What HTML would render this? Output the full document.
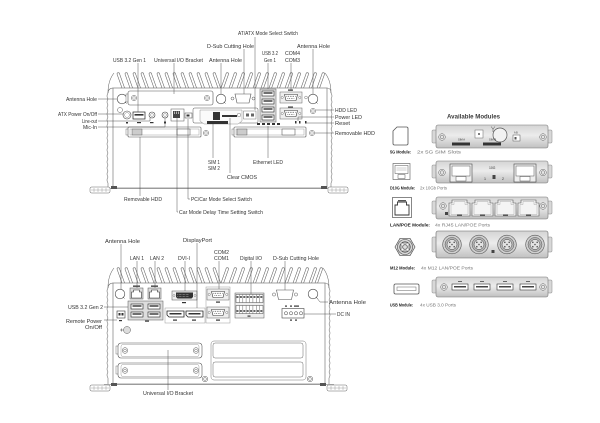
<!DOCTYPE html>
<html><head><meta charset="utf-8">
<style>
html,body{margin:0;padding:0;background:#fff;width:600px;height:423px;overflow:hidden}
svg{display:block}
text{font-family:"Liberation Sans",Arial,sans-serif;font-size:5.2px;fill:#333}
.l{fill:none;stroke:#444;stroke-width:0.45}
.w{fill:none;stroke:#666;stroke-width:0.55}
.o{fill:#fff;stroke:#666;stroke-width:0.55}
.d{fill:#333}
.mn{font-weight:bold;font-size:4.6px;fill:#222}
.md{font-size:4.6px;fill:#777}
</style></head><body>
<svg width="600" height="423" viewBox="0 0 600 423" xmlns="http://www.w3.org/2000/svg">
<defs>
 <path id="fl" d="M0,0 L5,14 M2.6,0 L7.6,14 M0,0 A1.3,1.3 0 0 1 2.6,0" fill="none" stroke="#666" stroke-width="0.55"/>
 <path id="fr" d="M0,0 L-5,14 M2.6,0 L-2.4,14 M0,0 A1.3,1.3 0 0 1 2.6,0" fill="none" stroke="#666" stroke-width="0.55"/>
 <g id="scr"><circle r="2.6" fill="#fff" stroke="#555" stroke-width="0.5"/><circle r="1.3" fill="none" stroke="#555" stroke-width="0.4"/></g>
 <g id="ant"><circle r="4.8" fill="#fff" stroke="#444" stroke-width="0.6"/><path d="M3.4,3.4 l1.2,1.2" stroke="#444" stroke-width="0.5"/></g>
 <g id="com"><rect width="22" height="11" fill="#eee" stroke="#666" stroke-width="0.5"/><circle cx="2.2" cy="5.5" r="1.1" fill="#fff" stroke="#555" stroke-width="0.4"/><circle cx="19.8" cy="5.5" r="1.1" fill="#fff" stroke="#555" stroke-width="0.4"/><path d="M4.5,2.5 H17.5 L16,8.5 H6 Z" fill="#fff" stroke="#333" stroke-width="0.6"/><path d="M6.5,4.3 H15.5 M7.5,6.6 H14.5" stroke="#333" stroke-width="0.8" stroke-dasharray="0.7,1"/></g>
 <g id="usb"><rect width="12" height="5" fill="#fff" stroke="#222" stroke-width="0.6"/><rect x="1.5" y="1.3" width="9" height="1.4" fill="#333"/></g>
 <g id="mscr"><circle r="3.3" fill="#e6e6e6" stroke="#666" stroke-width="0.5"/><circle r="1.8" fill="none" stroke="#666" stroke-width="0.5"/></g>
 <g id="rj"><path d="M0,17 V4 H3 V1 H18 V4 H21 V17 Z" fill="#f4f4f4" stroke="#555" stroke-width="0.6"/><path d="M2,15.5 V5.5 H5 V2.5 H16 V5.5 H19 V15.5 Z" fill="none" stroke="#999" stroke-width="0.4"/><rect x="8" y="15.5" width="5" height="1.5" fill="#555"/></g>
 <g id="m12"><circle r="9.3" fill="#cfcfcf" stroke="#555" stroke-width="0.6"/><circle r="7" fill="#b5b5b5" stroke="#555" stroke-width="0.5"/><circle r="5" fill="#e2e2e2" stroke="#444" stroke-width="0.5"/><circle cx="-2.2" cy="-2.2" r="0.8" fill="#555"/><circle cx="2.2" cy="-2.2" r="0.8" fill="#555"/><circle cx="-2.2" cy="2.2" r="0.8" fill="#555"/><circle cx="2.2" cy="2.2" r="0.8" fill="#555"/><circle r="0.8" fill="#555"/></g>
 <g id="bscr"><circle r="2.8" fill="#fff" stroke="#555" stroke-width="0.5"/><circle r="1.4" fill="none" stroke="#555" stroke-width="0.45"/></g>
 <linearGradient id="metal" x1="0" y1="0" x2="0" y2="1"><stop offset="0" stop-color="#d4d4d4"/><stop offset="0.45" stop-color="#ececec"/><stop offset="1" stop-color="#c0c0c0"/></linearGradient>
 <g id="foot"><rect width="20" height="6" rx="1.5" fill="#fff" stroke="#666" stroke-width="0.5"/><path d="M4,1 V5 M8,1 V5 M12,1 V5 M16,1 V5 M1,3 H19" stroke="#888" stroke-width="0.4"/></g>
</defs>

<!-- ================= TOP DEVICE ================= -->
<g>
 <use href="#fl" x="117" y="74"/><use href="#fl" x="125" y="74"/><use href="#fl" x="133" y="74"/><use href="#fl" x="141" y="74"/><use href="#fl" x="149" y="74"/><use href="#fl" x="157" y="74"/><use href="#fl" x="165" y="74"/><use href="#fl" x="173" y="74"/><use href="#fl" x="181" y="74"/><use href="#fl" x="189" y="74"/><use href="#fl" x="197" y="74"/><use href="#fl" x="205" y="74"/><use href="#fl" x="213" y="74"/>
 <use href="#fr" x="226" y="74"/><use href="#fr" x="234" y="74"/><use href="#fr" x="242" y="74"/><use href="#fr" x="250" y="74"/><use href="#fr" x="258" y="74"/><use href="#fr" x="266" y="74"/><use href="#fr" x="274" y="74"/><use href="#fr" x="282" y="74"/><use href="#fr" x="290" y="74"/><use href="#fr" x="298" y="74"/><use href="#fr" x="306" y="74"/><use href="#fr" x="314" y="74"/><use href="#fr" x="322" y="74"/>
 <path class="w" d="M113,88 C110,88 108,90 108,93 q-2,3 0,6 q-2,3 0,6 q-2,3 0,6 q-2,3 0,6 q-2,3 0,6 q-2,3 0,6 q-2,3 0,6 q-2,3 0,6 q-2,3 0,6 q-2,3 0,6 q-2,3 0,6 q-2,3 0,6 q-2,3 0,6 q-2,3 0,6 q-2,3 0,6 L108,188"/>
 <path class="w" d="M327,88 C330,88 331,90 331,93 q2,3 0,6 q2,3 0,6 q2,3 0,6 q2,3 0,6 q2,3 0,6 q2,3 0,6 q2,3 0,6 q2,3 0,6 q2,3 0,6 q2,3 0,6 q2,3 0,6 q2,3 0,6 q2,3 0,6 q2,3 0,6 q2,3 0,6 L331,188"/>
 <path class="w" d="M108,93 C108,84 110,78 114,73 M331,93 C331,84 329,78 325,73"/>
 <rect x="113" y="88" width="214" height="100" fill="none" stroke="#666" stroke-width="0.6"/>
 <path d="M104,188.5 H336" stroke="#666" stroke-width="0.6"/>
 <use href="#foot" x="90" y="187"/><use href="#foot" x="328" y="187"/>
 <rect x="111" y="186" width="6" height="3" fill="#555"/><rect x="321" y="186" width="6" height="3" fill="#555"/>

 <!-- row 1 -->
 <use href="#ant" x="122" y="99"/>
 <rect x="126" y="94" width="2.5" height="8" fill="#fff" stroke="#555" stroke-width="0.4"/>
 <rect x="128" y="91" width="85" height="14" rx="2" fill="#fff" stroke="#555" stroke-width="0.6"/>
 <use href="#scr" x="134" y="98"/><use href="#scr" x="207" y="98"/>
 <use href="#ant" x="221" y="99"/>
 <circle cx="232.5" cy="98.5" r="1.5" fill="#fff" stroke="#555" stroke-width="0.5"/>
 <circle cx="253.5" cy="98.5" r="1.5" fill="#fff" stroke="#555" stroke-width="0.5"/>
 <path d="M235,94 H251 L249,103 H237 Z" fill="#fff" stroke="#555" stroke-width="0.6"/>
 <rect x="260" y="89" width="16" height="33" fill="#e2e2e2" stroke="#555" stroke-width="0.5"/>
 <use href="#usb" x="262" y="91"/><use href="#usb" x="262" y="99"/><use href="#usb" x="262" y="107"/><use href="#usb" x="262" y="115"/>
 <rect x="257" y="123" width="3" height="2" class="d"/><rect x="262" y="123" width="3" height="2" class="d"/><rect x="267" y="123" width="3" height="2" class="d"/><rect x="272" y="123" width="3" height="2" class="d"/><rect x="277" y="123" width="3" height="2" class="d"/>
 <rect x="288" y="89.5" width="5" height="1.2" class="d"/>
 <use href="#com" x="280" y="92"/>
 <rect x="288" y="106.5" width="5" height="1.2" class="d"/>
 <use href="#com" x="280" y="108"/>
 <circle cx="306" cy="97.5" r="1.4" fill="#fff" stroke="#555" stroke-width="0.4"/>
 <use href="#ant" x="313" y="99"/>
 <use href="#scr" x="313" y="111"/>
 <rect x="295" y="121" width="1.5" height="2.5" class="d"/><rect x="299" y="121" width="1.5" height="2.5" class="d"/><rect x="305" y="121" width="1.5" height="2.5" class="d"/>

 <!-- row 2 -->
 <circle cx="120" cy="110" r="2.5" fill="#fff" stroke="#555" stroke-width="0.5"/>
 <circle cx="127" cy="115" r="4" fill="#fff" stroke="#444" stroke-width="0.6"/><circle cx="127" cy="115" r="2.4" fill="none" stroke="#666" stroke-width="0.4"/>
 <rect x="133" y="112" width="12" height="7" fill="#fff" stroke="#222" stroke-width="0.7"/><rect x="134.5" y="114" width="9" height="1.6" class="d"/>
 <circle cx="152" cy="115" r="3" fill="#fff" stroke="#444" stroke-width="0.6"/><circle cx="152" cy="115" r="1.4" fill="none" stroke="#666" stroke-width="0.4"/>
 <circle cx="165" cy="115" r="3" fill="#fff" stroke="#444" stroke-width="0.6"/><circle cx="165" cy="115" r="1.4" fill="none" stroke="#666" stroke-width="0.4"/>
 <rect x="126" y="122" width="2" height="1.5" class="d"/><rect x="137" y="122" width="4" height="1.2" class="d"/><rect x="150" y="122" width="3.5" height="1.2" class="d"/><rect x="164" y="121.5" width="2" height="2" class="d"/>
 <rect x="171" y="109" width="13" height="12" fill="#fff" stroke="#555" stroke-width="0.5"/>
 <rect x="173" y="111" width="7" height="7" fill="#444"/><path d="M174.5,111.5 V114 M176.5,111.5 V114 M178.5,111.5 V114" stroke="#fff" stroke-width="0.6"/>
 <rect x="185" y="113" width="7" height="5" fill="#fff" stroke="#444" stroke-width="0.5"/><rect x="186.5" y="114.5" width="3" height="2" class="d"/>
 <circle cx="197" cy="115" r="1.8" fill="#fff" stroke="#555" stroke-width="0.4"/>
 <rect x="193" y="108" width="65" height="15" rx="1.5" fill="#fff" stroke="#555" stroke-width="0.5"/>
 <path d="M200,110 H242 V121 L238,124 H204 L200,121 Z" fill="#fafafa" stroke="#777" stroke-width="0.4"/>
 <rect x="213" y="112" width="7" height="8" class="d"/>
 <rect x="207" y="121" width="21" height="3" class="d"/>
 <rect x="222" y="115" width="15" height="2" class="d"/>
 <circle cx="239" cy="115" r="1.8" fill="#fff" stroke="#555" stroke-width="0.4"/>
 <rect x="243.5" y="111" width="12.5" height="8" fill="#fff" stroke="#555" stroke-width="0.4"/><rect x="246" y="113.5" width="3" height="3" fill="#666"/><rect x="251" y="113.5" width="3" height="3" fill="#666"/>

 <!-- row 3 HDD trays -->
 <rect x="126" y="129" width="2.5" height="6" fill="#fff" stroke="#555" stroke-width="0.4"/>
 <rect x="128" y="127" width="73" height="10" rx="1" fill="#fff" stroke="#555" stroke-width="0.6"/>
 <rect x="130" y="129" width="69" height="6" fill="none" stroke="#888" stroke-width="0.4"/>
 <rect x="132" y="129" width="10" height="6" fill="#ccc" stroke="#444" stroke-width="0.4"/>
 <rect x="177" y="129" width="13" height="6" fill="#fff" stroke="#444" stroke-width="0.5"/>
 <use href="#scr" x="206" y="133"/>
 <rect x="232" y="129" width="2.5" height="6" fill="#fff" stroke="#555" stroke-width="0.4"/>
 <rect x="234" y="127" width="72" height="10" rx="1" fill="#fff" stroke="#555" stroke-width="0.6"/>
 <rect x="236" y="129" width="68" height="6" fill="none" stroke="#888" stroke-width="0.4"/>
 <rect x="237" y="129" width="10" height="6" fill="#ccc" stroke="#444" stroke-width="0.4"/>
 <rect x="282" y="129" width="13" height="6" fill="#fff" stroke="#444" stroke-width="0.5"/>
 <use href="#scr" x="312" y="133"/>
</g>

<!-- top device leaders -->
<path class="l" d="M255,37 V110 M244,49 V94 M313,49 V94 M268,63 V89 M291,63 V91 M138,63 V112 M174,63 V94 M221,63 V94
 M98,99 H117 M98,114 H123 M98,121 H150 V118 M98,127 H165 V118
 M334,110 H316 M334,117 H298 V121 M334,123 H306 M334,133 H315
 M213,124 V158 M230,118 V173 M268,126 V158
 M140,137 V196 M188,119 V199 H190 M177,117 V212 H178"/>

<!-- top labels -->
<text x="238" y="35" textLength="60" lengthAdjust="spacingAndGlyphs">AT/ATX Mode Select Switch</text>
<text x="207" y="48" textLength="47" lengthAdjust="spacingAndGlyphs">D-Sub Cutting Hole</text>
<text x="297" y="48" textLength="33" lengthAdjust="spacingAndGlyphs">Antenna Hole</text>
<text x="262" y="55" textLength="16" lengthAdjust="spacingAndGlyphs">USB 3.2</text>
<text x="264" y="62" textLength="12" lengthAdjust="spacingAndGlyphs">Gen 1</text>
<text x="285" y="55" textLength="15" lengthAdjust="spacingAndGlyphs">COM4</text>
<text x="285" y="62" textLength="15" lengthAdjust="spacingAndGlyphs">COM3</text>
<text x="113" y="62" textLength="33" lengthAdjust="spacingAndGlyphs">USB 3.2 Gen 1</text>
<text x="154" y="62" textLength="49" lengthAdjust="spacingAndGlyphs">Universal I/O Bracket</text>
<text x="209" y="62" textLength="33" lengthAdjust="spacingAndGlyphs">Antenna Hole</text>
<text x="66" y="101" textLength="31" lengthAdjust="spacingAndGlyphs">Antenna Hole</text>
<text x="58" y="116" textLength="39" lengthAdjust="spacingAndGlyphs">ATX Power On/Off</text>
<text x="82" y="123" textLength="15" lengthAdjust="spacingAndGlyphs">Line-out</text>
<text x="83" y="129" textLength="14" lengthAdjust="spacingAndGlyphs">Mic-In</text>
<text x="335" y="112" textLength="22" lengthAdjust="spacingAndGlyphs">HDD LED</text>
<text x="335" y="119" textLength="27" lengthAdjust="spacingAndGlyphs">Power LED</text>
<text x="335" y="125" textLength="15" lengthAdjust="spacingAndGlyphs">Reset</text>
<text x="335" y="135" textLength="40" lengthAdjust="spacingAndGlyphs">Removable HDD</text>
<text x="208" y="164" textLength="12" lengthAdjust="spacingAndGlyphs">SIM 1</text>
<text x="208" y="170" textLength="12" lengthAdjust="spacingAndGlyphs">SIM 2</text>
<text x="253" y="164" textLength="30" lengthAdjust="spacingAndGlyphs">Ethernet LED</text>
<text x="227" y="179" textLength="30" lengthAdjust="spacingAndGlyphs">Clear CMOS</text>
<text x="124" y="201" textLength="38" lengthAdjust="spacingAndGlyphs">Removable HDD</text>
<text x="191" y="201" textLength="61" lengthAdjust="spacingAndGlyphs">PC/Car Mode Select Switch</text>
<text x="179" y="214" textLength="84" lengthAdjust="spacingAndGlyphs">Car Mode Delay Time Setting Switch</text>

<!-- ================= BOTTOM DEVICE ================= -->
<g>
 <use href="#fl" x="117" y="269"/><use href="#fl" x="125" y="269"/><use href="#fl" x="133" y="269"/><use href="#fl" x="141" y="269"/><use href="#fl" x="149" y="269"/><use href="#fl" x="157" y="269"/><use href="#fl" x="165" y="269"/><use href="#fl" x="173" y="269"/><use href="#fl" x="181" y="269"/><use href="#fl" x="189" y="269"/><use href="#fl" x="197" y="269"/><use href="#fl" x="205" y="269"/><use href="#fl" x="213" y="269"/>
 <use href="#fr" x="226" y="269"/><use href="#fr" x="234" y="269"/><use href="#fr" x="242" y="269"/><use href="#fr" x="250" y="269"/><use href="#fr" x="258" y="269"/><use href="#fr" x="266" y="269"/><use href="#fr" x="274" y="269"/><use href="#fr" x="282" y="269"/><use href="#fr" x="290" y="269"/><use href="#fr" x="298" y="269"/><use href="#fr" x="306" y="269"/><use href="#fr" x="314" y="269"/><use href="#fr" x="320" y="269"/>
 <path class="w" d="M113,283 C110,283 108,285 108,288 q-2,3 0,6 q-2,3 0,6 q-2,3 0,6 q-2,3 0,6 q-2,3 0,6 q-2,3 0,6 q-2,3 0,6 q-2,3 0,6 q-2,3 0,6 q-2,3 0,6 q-2,3 0,6 q-2,3 0,6 q-2,3 0,6 q-2,3 0,6 q-2,3 0,6 L108,384"/>
 <path class="w" d="M325,283 C328,283 329,285 329,288 q2,3 0,6 q2,3 0,6 q2,3 0,6 q2,3 0,6 q2,3 0,6 q2,3 0,6 q2,3 0,6 q2,3 0,6 q2,3 0,6 q2,3 0,6 q2,3 0,6 q2,3 0,6 q2,3 0,6 q2,3 0,6 q2,3 0,6 L329,384"/>
 <path class="w" d="M108,288 C108,279 110,273 114,268 M329,288 C329,279 327,273 323,268"/>
 <rect x="113" y="283" width="212" height="101" fill="none" stroke="#666" stroke-width="0.6"/>
 <path d="M104,384.5 H334" stroke="#666" stroke-width="0.6"/>
 <use href="#foot" x="90" y="385"/><use href="#foot" x="327" y="385"/>
 <rect x="111" y="383" width="6" height="3" fill="#555"/><rect x="320" y="383" width="6" height="3" fill="#555"/>

 <use href="#ant" x="120" y="294"/>
 <!-- LAN -->
 <rect x="133" y="285.5" width="7" height="1.3" class="d"/><rect x="151" y="285.5" width="7" height="1.3" class="d"/>
 <rect x="130" y="288" width="13" height="11" fill="#ddd" stroke="#555" stroke-width="0.5"/>
 <path d="M131.5,298 V292 H133.5 V290 H139.5 V292 H141.5 V298 Z" fill="#fff" stroke="#333" stroke-width="0.6"/>
 <rect x="148" y="288" width="13" height="11" fill="#ddd" stroke="#555" stroke-width="0.5"/>
 <path d="M149.5,298 V292 H151.5 V290 H157.5 V292 H159.5 V298 Z" fill="#fff" stroke="#333" stroke-width="0.6"/>
 <!-- USB group -->
 <rect x="128" y="301" width="35" height="19" fill="#ddd" stroke="#555" stroke-width="0.5"/>
 <use href="#usb" x="131" y="304"/><use href="#usb" x="148" y="304"/><use href="#usb" x="131" y="312"/><use href="#usb" x="148" y="312"/>
 <rect x="145" y="320.5" width="4" height="1.2" class="d"/>
 <!-- remote power -->
 <rect x="117" y="311" width="8" height="7" fill="#fff" stroke="#333" stroke-width="0.6"/><rect x="118.5" y="313" width="2" height="2.5" class="d"/><rect x="121.5" y="313" width="2" height="2.5" class="d"/>
 <rect x="119" y="320" width="3" height="1.2" class="d"/>
 <!-- ground -->
 <circle cx="127" cy="330" r="3.5" fill="#ddd" stroke="#555" stroke-width="0.5"/><path d="M120,330 H123.5 M121.5,328.5 V331.5" stroke="#555" stroke-width="0.6"/>
 <!-- DVI -->
 <rect x="172" y="291" width="25" height="9" fill="#eee" stroke="#555" stroke-width="0.5"/>
 <circle cx="174" cy="295.5" r="1" fill="#fff" stroke="#555" stroke-width="0.4"/><circle cx="195" cy="295.5" r="1" fill="#fff" stroke="#555" stroke-width="0.4"/>
 <path d="M176,292.5 H193 V297 L191.5,298.5 H177.5 L176,297 Z" fill="#333"/>
 <path d="M177.5,294.5 H189 M177.5,296.5 H189" stroke="#fff" stroke-width="0.5" stroke-dasharray="0.6,0.8"/>
 <rect x="182" y="302" width="4" height="1.2" class="d"/>
 <!-- DP -->
 <rect x="165" y="308" width="40" height="15" fill="#fff" stroke="#999" stroke-width="0.5"/>
 <path d="M167,311 H184 V317 H169 L167,315 Z" fill="#fff" stroke="#222" stroke-width="0.8"/><rect x="169.5" y="313" width="12" height="1.5" class="d"/>
 <path d="M186,311 H203 V317 H188 L186,315 Z" fill="#fff" stroke="#222" stroke-width="0.8"/><rect x="188.5" y="313" width="12" height="1.5" class="d"/>
 <rect x="173" y="319.5" width="4" height="1.2" class="d"/><rect x="192" y="319.5" width="4" height="1.2" class="d"/>
 <!-- COM -->
 <rect x="206" y="287" width="24" height="36" fill="#fff" stroke="#999" stroke-width="0.5"/>
 <use href="#com" x="207" y="289"/><use href="#com" x="207" y="307"/>
 <rect x="216" y="301.5" width="4" height="1.2" class="d"/><rect x="216" y="319.5" width="4" height="1.2" class="d"/>
 <!-- Digital IO -->
 <rect x="235" y="293" width="29" height="25" fill="#eee" stroke="#555" stroke-width="0.5"/>
 <rect x="236" y="294.5" width="27" height="8" fill="#fff" stroke="#444" stroke-width="0.5"/>
 <path d="M239.4,294.5 V302.5 M242.8,294.5 V302.5 M246.1,294.5 V302.5 M249.5,294.5 V302.5 M252.9,294.5 V302.5 M256.3,294.5 V302.5 M259.6,294.5 V302.5" stroke="#444" stroke-width="0.4"/>
 <path d="M236.5,297 H262.5" stroke="#333" stroke-width="1.4" stroke-dasharray="2,1.4"/>
 <rect x="236" y="305.5" width="27" height="8" fill="#fff" stroke="#444" stroke-width="0.5"/>
 <path d="M239.4,305.5 V313.5 M242.8,305.5 V313.5 M246.1,305.5 V313.5 M249.5,305.5 V313.5 M252.9,305.5 V313.5 M256.3,305.5 V313.5 M259.6,305.5 V313.5" stroke="#444" stroke-width="0.4"/>
 <path d="M236.5,311 H262.5" stroke="#333" stroke-width="1.4" stroke-dasharray="2,1.4"/>
 <rect x="247.5" y="315.5" width="3" height="1.2" class="d"/>
 <!-- D-sub cutting -->
 <circle cx="274" cy="294.5" r="1.6" fill="#fff" stroke="#555" stroke-width="0.5"/>
 <circle cx="296" cy="294.5" r="1.6" fill="#fff" stroke="#555" stroke-width="0.5"/>
 <path d="M276.5,290 H293.5 L291.5,299.5 H278.5 Z" fill="#fff" stroke="#555" stroke-width="0.6"/>
 <use href="#ant" x="313" y="294"/>
 <!-- DC IN -->
 <rect x="285" y="305.5" width="2" height="1.2" class="d"/><rect x="290" y="305.5" width="2" height="1.2" class="d"/><rect x="294" y="305.5" width="5" height="1.2" class="d"/>
 <rect x="282" y="308.5" width="22" height="9.5" fill="#fff" stroke="#444" stroke-width="0.6"/>
 <circle cx="286" cy="313.3" r="1.6" fill="#fff" stroke="#333" stroke-width="0.5"/><circle cx="291" cy="313.3" r="1.6" fill="#fff" stroke="#333" stroke-width="0.5"/><circle cx="296" cy="313.3" r="1.6" fill="#fff" stroke="#333" stroke-width="0.5"/><circle cx="301" cy="313.3" r="1.6" fill="#fff" stroke="#333" stroke-width="0.5"/>
 <rect x="290" y="319.5" width="2" height="1.2" class="d"/><rect x="295" y="319.5" width="2" height="1.2" class="d"/>
 <!-- brackets -->
 <rect x="116" y="346" width="2.5" height="8" fill="#fff" stroke="#555" stroke-width="0.4"/>
 <rect x="118" y="343" width="84" height="15" rx="3" fill="#fff" stroke="#555" stroke-width="0.6"/>
 <rect x="121" y="344.5" width="78" height="12" rx="2" fill="none" stroke="#888" stroke-width="0.4"/>
 <use href="#bscr" x="125" y="350.5"/><use href="#bscr" x="196" y="350.5"/>
 <rect x="116" y="366" width="2.5" height="8" fill="#fff" stroke="#555" stroke-width="0.4"/>
 <rect x="118" y="363" width="84" height="15" rx="3" fill="#fff" stroke="#555" stroke-width="0.6"/>
 <rect x="121" y="364.5" width="78" height="12" rx="2" fill="none" stroke="#888" stroke-width="0.4"/>
 <use href="#bscr" x="125" y="370.5"/><use href="#bscr" x="196" y="370.5"/>
 <rect x="211" y="341" width="95" height="39" rx="3" fill="none" stroke="#777" stroke-width="0.5"/>
 <rect x="213" y="343" width="90" height="15" rx="2" fill="#fff" stroke="#666" stroke-width="0.5"/>
 <rect x="213" y="362" width="90" height="15" rx="2" fill="#fff" stroke="#666" stroke-width="0.5"/>
 <use href="#bscr" x="205" y="379"/><use href="#bscr" x="310" y="379"/>
</g>

<!-- bottom leaders -->
<path class="l" d="M121,244 V289 M197,243 V308 M137,261 V288 M155,261 V288 M185,261 V291 M219,261 V289 M251,261 V294 M285,261 V290
 M316.5,297.5 L320,302 H328 M304,314 H336 M104,307 H128 M104,320 H117 M168,350 V390"/>

<!-- bottom labels -->
<text x="105" y="243" textLength="35" lengthAdjust="spacingAndGlyphs">Antenna Hole</text>
<text x="183" y="242" textLength="29" lengthAdjust="spacingAndGlyphs">DisplayPort</text>
<text x="130" y="260" textLength="14" lengthAdjust="spacingAndGlyphs">LAN 1</text>
<text x="150" y="260" textLength="14" lengthAdjust="spacingAndGlyphs">LAN 2</text>
<text x="178" y="260" textLength="12" lengthAdjust="spacingAndGlyphs">DVI-I</text>
<text x="214" y="254" textLength="15" lengthAdjust="spacingAndGlyphs">COM2</text>
<text x="214" y="260" textLength="15" lengthAdjust="spacingAndGlyphs">COM1</text>
<text x="240" y="260" textLength="22" lengthAdjust="spacingAndGlyphs">Digital I/O</text>
<text x="273" y="260" textLength="46" lengthAdjust="spacingAndGlyphs">D-Sub Cutting Hole</text>
<text x="329" y="304" textLength="37" lengthAdjust="spacingAndGlyphs">Antenna Hole</text>
<text x="337" y="316" textLength="13" lengthAdjust="spacingAndGlyphs">DC IN</text>
<text x="68" y="309" textLength="35" lengthAdjust="spacingAndGlyphs">USB 3.2 Gen 2</text>
<text x="66" y="323" textLength="36" lengthAdjust="spacingAndGlyphs">Remote Power</text>
<text x="85" y="329" textLength="17" lengthAdjust="spacingAndGlyphs">On/Off</text>
<text x="143" y="395" textLength="50" lengthAdjust="spacingAndGlyphs">Universal I/O Bracket</text>

<!-- ================= AVAILABLE MODULES ================= -->
<text x="447" y="118.5" textLength="53" lengthAdjust="spacingAndGlyphs" style="font-size:6.6px;font-weight:bold;fill:#3a3a3a">Available Modules</text>

<!-- 5G -->
<path d="M397,127 H406.5 Q408,127 408,128.5 V143.5 Q408,145 406.5,145 H394.5 Q393,145 393,143.5 V131 Z" fill="#fff" stroke="#555" stroke-width="0.8"/>
<rect x="432" y="130" width="6" height="13" rx="1" fill="#d8d8d8" stroke="#888" stroke-width="0.5"/>
<rect x="546" y="130" width="6" height="13" rx="1" fill="#d8d8d8" stroke="#888" stroke-width="0.5"/>
<rect x="436" y="125" width="112" height="23" rx="2" fill="url(#metal)" stroke="#777" stroke-width="0.6"/>
<use href="#mscr" x="442" y="137"/><use href="#mscr" x="543" y="137"/>
<rect x="475" y="130" width="8" height="8" fill="#fff" stroke="#666" stroke-width="0.5"/><circle cx="479" cy="134" r="1" fill="#555"/>
<circle cx="500" cy="135" r="7" fill="#f2f2f2" stroke="#555" stroke-width="0.7"/>
<path d="M491,126.5 L493,129 L495,126.5 M493,129 V132" stroke="#444" stroke-width="0.5" fill="none"/>
<text x="458" y="140.5" style="font-size:2.6px;fill:#333">SIM A</text><text x="489" y="140.5" style="font-size:2.6px;fill:#333">SIM B</text>
<rect x="452" y="142.5" width="18" height="3" fill="#333"/><rect x="483" y="142.5" width="18" height="3" fill="#333"/>
<rect x="513" y="135" width="7" height="6" fill="#fff" stroke="#555" stroke-width="0.5"/><rect x="514.5" y="137" width="2" height="2.5" fill="#555"/>
<text x="514" y="133.5" style="font-size:2.4px;fill:#333">A B</text>
<text class="mn" x="390" y="153.6" textLength="21" lengthAdjust="spacingAndGlyphs">5G Module:</text>
<text class="md" x="417" y="153.6" textLength="44" lengthAdjust="spacingAndGlyphs">2x 5G SIM Slots</text>

<!-- D10G -->
<rect x="393" y="163.5" width="17" height="16" fill="#fff" stroke="#555" stroke-width="0.6"/>
<rect x="395" y="165.5" width="13" height="8" fill="#fff" stroke="#555" stroke-width="0.5"/>
<path d="M396.5,168 H406.5 M396.5,170 H406.5" stroke="#888" stroke-width="0.4"/>
<rect x="398" y="174.5" width="7" height="4" fill="#fff" stroke="#555" stroke-width="0.5"/>
<rect x="432" y="165" width="6" height="13" rx="1" fill="#d8d8d8" stroke="#888" stroke-width="0.5"/>
<rect x="546" y="165" width="6" height="13" rx="1" fill="#d8d8d8" stroke="#888" stroke-width="0.5"/>
<rect x="436" y="161" width="112" height="22" rx="2" fill="url(#metal)" stroke="#777" stroke-width="0.6"/>
<use href="#mscr" x="442" y="172.5"/><use href="#mscr" x="543" y="172.5"/>
<rect x="450" y="164" width="22" height="18" fill="#eee" stroke="#444" stroke-width="0.6"/>
<rect x="452" y="166" width="18" height="10" fill="#fff" stroke="#555" stroke-width="0.5"/>
<rect x="456" y="176.5" width="10" height="4.5" fill="#fff" stroke="#555" stroke-width="0.5"/>
<rect x="514" y="164" width="22" height="18" fill="#eee" stroke="#444" stroke-width="0.6"/>
<rect x="516" y="166" width="18" height="10" fill="#fff" stroke="#555" stroke-width="0.5"/>
<rect x="520" y="176.5" width="10" height="4.5" fill="#fff" stroke="#555" stroke-width="0.5"/>
<text x="489" y="169" style="font-size:3.4px;fill:#333">10G</text>
<text x="484" y="180" style="font-size:3.6px;fill:#333">1</text>
<text x="502" y="180" style="font-size:3.6px;fill:#333">2</text>
<rect x="492.5" y="175" width="3" height="4" fill="#444"/>
<text class="mn" x="390" y="189.6" textLength="25" lengthAdjust="spacingAndGlyphs">D10G Module:</text>
<text class="md" x="420" y="189.6" textLength="27" lengthAdjust="spacingAndGlyphs">2x 10Gb Ports</text>

<!-- LAN/POE -->
<rect x="392.5" y="197.5" width="19" height="20" fill="#fff" stroke="#555" stroke-width="0.7"/>
<path d="M395,215 V205 H397.5 V202 H406.5 V205 H409 V215 Z" fill="#fff" stroke="#333" stroke-width="0.9"/>
<rect x="398" y="200" width="8" height="1.2" fill="#555"/>
<rect x="432" y="201" width="6" height="13" rx="1" fill="#d8d8d8" stroke="#888" stroke-width="0.5"/>
<rect x="546" y="201" width="6" height="13" rx="1" fill="#d8d8d8" stroke="#888" stroke-width="0.5"/>
<rect x="436" y="197" width="112" height="22" rx="2" fill="url(#metal)" stroke="#777" stroke-width="0.6"/>
<use href="#mscr" x="443" y="206"/><use href="#mscr" x="543" y="206"/>
<use href="#rj" x="449" y="199"/><use href="#rj" x="472" y="199"/><use href="#rj" x="495" y="199"/><use href="#rj" x="518" y="199"/>
<rect x="445" y="212" width="3" height="3" fill="#444"/>
<text class="mn" x="390" y="226.6" textLength="40" lengthAdjust="spacingAndGlyphs">LAN/POE Module:</text>
<text class="md" x="435" y="226.6" textLength="55" lengthAdjust="spacingAndGlyphs">4x RJ45 LAN/POE Ports</text>

<!-- M12 -->
<polygon points="415,247 410,255.7 400,255.7 395,247 400,238.3 410,238.3" fill="#e4e4e4" stroke="#555" stroke-width="0.7"/>
<circle cx="405" cy="247" r="7.5" fill="#d6d6d6" stroke="#444" stroke-width="0.6"/>
<circle cx="405" cy="247" r="5.2" fill="#bbb" stroke="#333" stroke-width="0.6"/>
<path d="M401.5,243.5 L408.5,250.5 M408.5,243.5 L401.5,250.5" stroke="#fff" stroke-width="1"/>
<circle cx="405" cy="247" r="2.2" fill="#ddd" stroke="#333" stroke-width="0.5"/>
<rect x="432" y="237" width="6" height="15" rx="1" fill="#d8d8d8" stroke="#888" stroke-width="0.5"/>
<rect x="546" y="237" width="6" height="15" rx="1" fill="#d8d8d8" stroke="#888" stroke-width="0.5"/>
<rect x="436" y="231" width="112" height="27" rx="2" fill="url(#metal)" stroke="#666" stroke-width="0.6"/>
<use href="#m12" x="452" y="244.5"/><use href="#m12" x="479" y="244.5"/><use href="#m12" x="507" y="244.5"/><use href="#m12" x="535" y="244.5"/>
<rect x="491.5" y="250" width="3" height="3" fill="#444"/>
<text class="mn" x="390" y="269.6" textLength="25" lengthAdjust="spacingAndGlyphs">M12 Module:</text>
<text class="md" x="421" y="269.6" textLength="52" lengthAdjust="spacingAndGlyphs">4x M12 LAN/POE Ports</text>

<!-- USB -->
<rect x="394" y="284" width="25" height="10" rx="1.5" fill="#fff" stroke="#555" stroke-width="0.8"/>
<rect x="397" y="287" width="19" height="3.5" fill="none" stroke="#666" stroke-width="0.5"/>
<rect x="432" y="280" width="6" height="13" rx="1" fill="#d8d8d8" stroke="#888" stroke-width="0.5"/>
<rect x="546" y="280" width="6" height="13" rx="1" fill="#d8d8d8" stroke="#888" stroke-width="0.5"/>
<rect x="436" y="277" width="112" height="20" rx="2" fill="url(#metal)" stroke="#777" stroke-width="0.6"/>
<use href="#mscr" x="444" y="287"/><use href="#mscr" x="543" y="287"/>
<rect x="452" y="284" width="16" height="6" fill="#fff" stroke="#333" stroke-width="0.6"/><rect x="454" y="286" width="12" height="1.5" fill="#444"/>
<rect x="474" y="284" width="16" height="6" fill="#fff" stroke="#333" stroke-width="0.6"/><rect x="476" y="286" width="12" height="1.5" fill="#444"/>
<rect x="497" y="284" width="16" height="6" fill="#fff" stroke="#333" stroke-width="0.6"/><rect x="499" y="286" width="12" height="1.5" fill="#444"/>
<rect x="520" y="284" width="16" height="6" fill="#fff" stroke="#333" stroke-width="0.6"/><rect x="522" y="286" width="12" height="1.5" fill="#444"/>
<rect x="458" y="281" width="4" height="1" fill="#666"/><rect x="480" y="281" width="4" height="1" fill="#666"/><rect x="503" y="281" width="4" height="1" fill="#666"/><rect x="526" y="281" width="4" height="1" fill="#666"/>
<text class="mn" x="390" y="306.6" textLength="23" lengthAdjust="spacingAndGlyphs">USB Module:</text>
<text class="md" x="420" y="306.6" textLength="36" lengthAdjust="spacingAndGlyphs">4x USB 3.0 Ports</text>
</svg>
</body></html>
